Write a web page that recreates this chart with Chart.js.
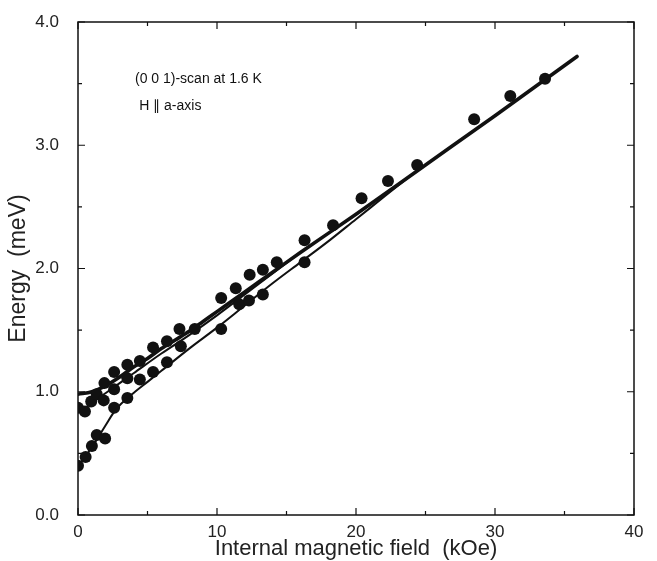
<!DOCTYPE html>
<html>
<head>
<meta charset="utf-8">
<script src="https://cdn.jsdelivr.net/npm/chart.js@4.4.1/dist/chart.umd.min.js"></script>
<style>
  html, body { margin: 0; padding: 0; background: #fff; }
  canvas { display: block; }
</style>
</head>
<body>
<canvas id="myChart" width="657" height="561"></canvas>
<script>
// measured points (kOe, meV)
const fieldPts = [0, 0, 0.5, 0.55, 0.95, 1.0, 1.35, 1.35, 1.85, 1.9, 1.95, 2.6, 2.6, 2.6,
  3.55, 3.55, 3.55, 4.45, 4.45, 5.4, 5.4, 6.4, 6.4, 7.3, 7.4, 8.4, 10.3, 10.3, 11.35, 11.6,
  12.35, 12.3, 13.3, 13.3, 14.3, 16.3, 16.3, 18.35, 20.4, 22.3, 24.4, 28.5, 31.1, 33.6];
const energyPts = [0.87, 0.40, 0.84, 0.47, 0.92, 0.56, 0.98, 0.65, 0.93, 1.07, 0.62, 1.16, 1.02, 0.87,
  1.22, 1.11, 0.95, 1.25, 1.10, 1.36, 1.16, 1.41, 1.24, 1.51, 1.37, 1.51, 1.76, 1.51, 1.84, 1.71,
  1.95, 1.74, 1.99, 1.79, 2.05, 2.23, 2.05, 2.35, 2.57, 2.71, 2.84, 3.21, 3.40, 3.54];

// drawn curves
const upperX = [0, 1, 2, 3, 4, 5, 6, 7, 8, 9, 10, 12, 14, 16, 20, 25, 30, 35.9];
const upperY = [0.98, 1.0, 1.05, 1.12, 1.2, 1.27, 1.35, 1.42, 1.49, 1.57, 1.65, 1.81, 1.97, 2.13, 2.44, 2.84, 3.24, 3.72];
const middleX = [0.3, 1, 2, 3, 4, 6, 8, 10, 12, 14, 16];
const middleY = [0.85, 0.91, 0.99, 1.07, 1.15, 1.31, 1.46, 1.62, 1.79, 1.96, 2.13];
const lowerX = [0, 0.5, 1, 1.5, 2, 2.5, 3, 4, 5, 6, 8, 10, 12, 14, 16, 18, 20, 22, 24];
const lowerY = [0.40, 0.47, 0.55, 0.64, 0.73, 0.82, 0.89, 0.99, 1.08, 1.17, 1.35, 1.52, 1.70, 1.88, 2.05, 2.22, 2.40, 2.58, 2.76];

const xTicks = [0, 10, 20, 30, 40];
const yTicks = [0, 1, 2, 3, 4];

const notes = ["(0 0 1)-scan at 1.6 K", "H \u2225 a-axis"];

const FONT = "Arial, 'Liberation Sans', Helvetica, sans-serif";

function pairs(xs, ys) {
  return xs.map((x, i) => ({ x: x, y: ys[i] }));
}

function curve(xs, ys, w) {
  return {
    type: "line",
    data: pairs(xs, ys),
    showLine: true,
    borderColor: "#111",
    borderWidth: w,
    borderCapStyle: "round",
    pointRadius: 0,
    fill: false,
    cubicInterpolationMode: "monotone",
  };
}

// box frame, inward ticks and the two notes
const frame = {
  id: "frame",
  afterDatasetsDraw(chart) {
    const { ctx, chartArea: a, scales } = chart;
    const sx = scales.x, sy = scales.y;
    ctx.save();
    ctx.strokeStyle = "#111";
    ctx.lineWidth = 1.5;
    ctx.strokeRect(a.left, a.top, a.right - a.left, a.bottom - a.top);
    ctx.lineWidth = 1.2;
    ctx.beginPath();
    for (let v = 0; v <= 40; v += 5) {
      const px = sx.getPixelForValue(v);
      const len = v % 10 === 0 ? 7 : 4;
      ctx.moveTo(px, a.bottom); ctx.lineTo(px, a.bottom - len);
      ctx.moveTo(px, a.top); ctx.lineTo(px, a.top + len);
    }
    for (let v = 0; v <= 4; v += 0.5) {
      const py = sy.getPixelForValue(v);
      const len = Math.abs(v % 1) < 1e-6 ? 7 : 4;
      ctx.moveTo(a.left, py); ctx.lineTo(a.left + len, py);
      ctx.moveTo(a.right, py); ctx.lineTo(a.right - len, py);
    }
    ctx.stroke();

    ctx.fillStyle = "#111";
    ctx.font = "14px " + FONT;
    ctx.textBaseline = "middle";
    ctx.textAlign = "left";
    ctx.fillText(notes[0], sx.getPixelForValue(4.1), sy.getPixelForValue(3.54));
    ctx.fillText(notes[1], sx.getPixelForValue(4.4), sy.getPixelForValue(3.32));
    ctx.restore();
  },
};

const ctx = document.getElementById("myChart").getContext("2d");
new Chart(ctx, {
  type: "scatter",
  data: {
    datasets: [
      {
        data: pairs(fieldPts, energyPts),
        backgroundColor: "#111",
        borderWidth: 0,
        pointRadius: 6,
      },
      curve(upperX, upperY, 3.6),
      curve(middleX, middleY, 2),
      curve(lowerX, lowerY, 2),
    ],
  },
  options: {
    responsive: false,
    animation: false,
    layout: { padding: { top: 22, right: 23, left: 0, bottom: 0 } },
    plugins: { legend: { display: false }, tooltip: { enabled: false } },
    scales: {
      x: {
        type: "linear",
        min: 0,
        max: 40,
        afterBuildTicks: (s) => { s.ticks = xTicks.map((v) => ({ value: v })); },
        afterFit: (s) => { s.height = 46; },
        grid: { display: false, drawTicks: false },
        border: { display: false },
        ticks: { color: "#222", padding: 7, font: { family: FONT, size: 17 } },
        title: {
          display: true,
          text: "Internal magnetic field  (kOe)",
          color: "#222",
          padding: { top: 0, bottom: -1 },
          font: { family: FONT, size: 22 },
        },
      },
      y: {
        type: "linear",
        min: 0,
        max: 4,
        afterBuildTicks: (s) => { s.ticks = yTicks.map((v) => ({ value: v })); },
        afterFit: (s) => { s.width = 78; s.paddingTop = 0; s.paddingBottom = 0; },
        grid: { display: false, drawTicks: false },
        border: { display: false },
        ticks: {
          color: "#222",
          padding: 19,
          font: { family: FONT, size: 17 },
          callback: (v) => v.toFixed(1),
        },
        title: {
          display: true,
          text: "Energy  (meV)",
          color: "#222",
          padding: { top: 5, bottom: 0 },
          font: { family: FONT, size: 23 },
        },
      },
    },
  },
  plugins: [frame],
});
</script>
</body>
</html>
